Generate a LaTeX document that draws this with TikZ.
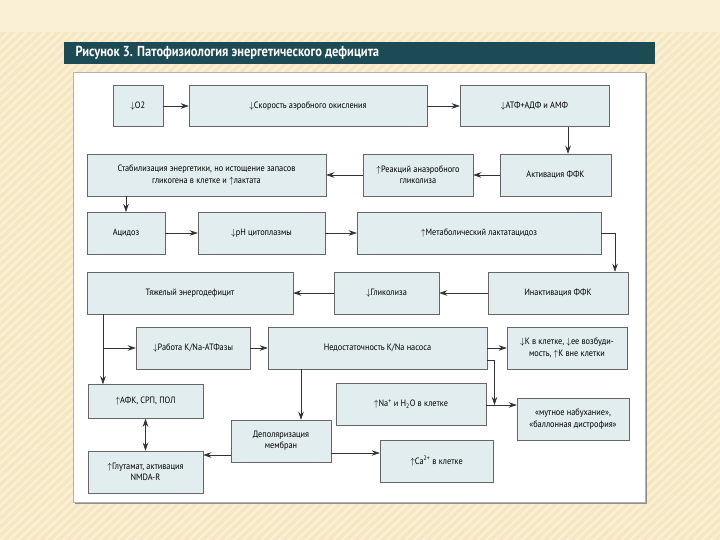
\documentclass[tikz,border=0pt]{standalone}
\usepackage{fontspec}
\setmainfont{PT Sans}[FakeStretch=0.9]
\newfontfamily\titlefont{PT Sans}[FakeStretch=0.86]
\usetikzlibrary{calc,arrows.meta,shadows}

\definecolor{fonbg}{HTML}{F6E7C1}
\definecolor{fonlight}{HTML}{FAF0D6}
\definecolor{titlebg}{HTML}{1C4A55}
\definecolor{boxfill}{HTML}{E2EDEF}
\definecolor{boxline}{HTML}{333333}

\begin{document}
\begin{tikzpicture}[x=1pt, y=-1pt,
    blok/.style={draw=boxline!75, line width=0.5pt, fill=boxfill, align=center,
        inner sep=2pt, font=\fontsize{9.2}{11.2}\selectfont,
        drop shadow={shadow xshift=0.9pt, shadow yshift=-0.9pt, fill=boxline, opacity=0.9}},
    nyil/.style={draw=boxline, line width=0.65pt, -{Stealth[length=8pt,width=5.5pt]}},
    nyil2/.style={draw=boxline, line width=0.65pt, {Stealth[length=8pt,width=5.5pt]}-{Stealth[length=8pt,width=5.5pt]}}]

    % --- Фон слайда (Slide background) ---
    \useasboundingbox (0,0) rectangle (720,540);
    \fill[fonbg] (0,0) rectangle (720,540);
    \fill[fonlight] (0,0) rectangle (720,32);
    \begin{scope}
        \clip (0,32) rectangle (720,540);
        \foreach \s in {0,9,...,1260} {
            \draw[fonlight, line width=2.5pt] (\s-540,540) -- (\s,32);
        }
    \end{scope}

    % --- Заголовок (Title bar) ---
    \fill[titlebg] (64,42) rectangle (655,64);
    \node[anchor=west, text=white, font=\titlefont\bfseries\fontsize{14.5}{16}\selectfont] (title) at (72,53)
        {Рисунок 3. Патофизиология энергетического дефицита};

    % --- Белая панель (White panel) ---
    \fill[black!45] (75,73.5) rectangle (646.5,503.5);
    \draw[gray!60, fill=white] (73.5,72) rectangle (645,502);

    % --- Первый ряд (Row 1) ---
    \node[blok, minimum width=50pt, minimum height=41pt] (o2) at (137.75,106) {$\downarrow$O2};
    \node[blok, minimum width=238pt, minimum height=41pt] (speed) at (308,106) {$\downarrow$Скорость аэробного окисления};
    \node[blok, minimum width=149pt, minimum height=41pt] (atf) at (534.5,106) {$\downarrow$АТФ+АДФ и АМФ};

    % --- Второй ряд (Row 2) ---
    \node[blok, minimum width=239pt, minimum height=42pt] (stab) at (206.5,175)
        {Стабилизация энергетики, но истощение запасов\\гликогена в клетке и $\uparrow$лактата};
    \node[blok, minimum width=110pt, minimum height=42pt] (anaer) at (418,175) {$\uparrow$Реакций анаэробного\\гликолиза};
    \node[blok, minimum width=111pt, minimum height=42pt] (pfk) at (555.5,175) {Активация ФФК};

    % --- Третий ряд (Row 3) ---
    \node[blok, minimum width=78pt, minimum height=41.5pt] (acid) at (126,233) {Ацидоз};
    \node[blok, minimum width=127pt, minimum height=41.5pt] (ph) at (261.5,233) {$\downarrow$pH цитоплазмы};
    \node[blok, minimum width=244pt, minimum height=41.5pt] (lact) at (479,233) {$\uparrow$Метаболический лактатацидоз};

    % --- Четвертый ряд (Row 4) ---
    \node[blok, minimum width=206pt, minimum height=42pt] (deficit) at (190,293) {Тяжелый энергодефицит};
    \node[blok, minimum width=105pt, minimum height=42pt] (glyc) at (386.5,293) {$\downarrow$Гликолиза};
    \node[blok, minimum width=139.5pt, minimum height=42pt] (inact) at (558,293) {Инактивация ФФК};

    % --- Пятый ряд (Row 5) ---
    \node[blok, minimum width=114pt, minimum height=42pt] (atpase) at (193,348) {$\downarrow$Работа K/Na-АТФазы};
    \node[blok, minimum width=219pt, minimum height=42pt] (pump) at (377.5,348) {Недостаточность K/Na насоса};
    \node[blok, minimum width=120pt, minimum height=42pt] (kcell) at (567,348)
        {$\downarrow$K в клетке, $\downarrow$ее возбуди-\\мость, $\uparrow$K вне клетки};

    % --- Нижняя часть (Bottom part) ---
    \node[blok, minimum width=115pt, minimum height=34pt] (afk) at (145.5,401.5) {$\uparrow$АФК, СРП, ПОЛ};
    \node[blok, minimum width=149.5pt, minimum height=42pt] (na) at (411,404)
        {$\uparrow$Na\textsuperscript{+} и H\textsubscript{2}O в клетке};
    \node[blok, minimum width=112pt, minimum height=42pt] (swell) at (573,419)
        {«мутное набухание»,\\«баллонная дистрофия»};
    \node[blok, minimum width=100pt, minimum height=42pt] (depol) at (281,441) {Деполяризация\\мембран};
    \node[blok, minimum width=115pt, minimum height=42pt] (glut) at (145.5,472)
        {$\uparrow$Глутамат, активация\\NMDA-R};
    \node[blok, minimum width=113pt, minimum height=42pt] (ca) at (436.5,461)
        {$\uparrow$Ca\textsuperscript{2+} в клетке};

    % --- Стрелки (Arrows) ---
    \draw[nyil] (o2) -- (speed);
    \draw[nyil] (speed) -- (atf);
    \draw[nyil] ($(atf.south)+(33.5,0)$) -- ($(pfk.north)+(12.5,0)$);
    \draw[nyil] (pfk) -- (anaer);
    \draw[nyil] (anaer) -- (stab);
    \draw[nyil] (stab.south -| acid) -- (acid);
    \draw[nyil] (acid) -- (ph);
    \draw[nyil] (ph) -- (lact);
    \draw[nyil] (lact.east) -| ($(inact.north)+(57,0)$);
    \draw[nyil] (inact) -- (glyc);
    \draw[nyil] (glyc) -- (deficit);

    % Разветвление от энергодефицита
    \coordinate (kn) at (103,348);
    \draw[nyil] (deficit.south -| kn) -- (afk.north -| kn);
    \draw[nyil] (kn) -- (atpase);
    \draw[nyil] (atpase) -- (pump);
    \draw[nyil] (pump) -- (kcell);

    \coordinate (d1) at (301,0);
    \draw[nyil] (pump.south -| d1) -- (depol.north -| d1);

    \coordinate (kn2) at (494.5,405);
    \draw[nyil] ($(pump.east)+(0,12)$) -| (kn2);
    \draw[nyil] (na.east |- kn2) -- (swell.west |- kn2);

    \draw[nyil2] (afk) -- (glut);

    \coordinate (g1) at ($(depol.west)+(0,14)$);
    \draw[nyil] (g1) -- (glut.east |- g1);
    \coordinate (c1) at ($(depol.east)+(0,12)$);
    \draw[nyil] (c1) -- (ca.west |- c1);

\end{tikzpicture}
\end{document}
